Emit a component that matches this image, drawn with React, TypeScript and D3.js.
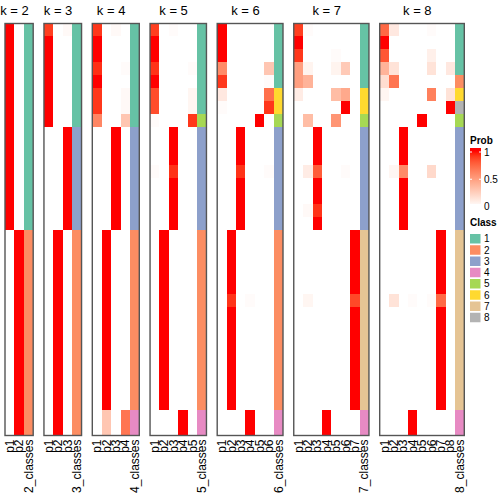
import React from "react";
import * as d3 from "d3";

// ---------- data ----------
const kValues = [2, 3, 4, 5, 6, 7, 8];

const classK2 = [1,1,1,1,1,1,1,1,1,1,1,1,1,1,1,1,2,2,2,2,2,2,2,2,2,2,2,2,2,2,2,2];
const classK3 = [1,1,1,1,1,1,1,1,3,3,3,3,3,3,3,3,2,2,2,2,2,2,2,2,2,2,2,2,2,2,2,2];
const classK4 = [1,1,1,1,1,1,1,1,3,3,3,3,3,3,3,3,2,2,2,2,2,2,2,2,2,2,2,2,2,2,4,4];
const classK5 = [1,1,1,1,1,1,1,5,3,3,3,3,3,3,3,3,2,2,2,2,2,2,2,2,2,2,2,2,2,2,4,4];
const classK6 = [1,1,1,1,1,6,6,5,3,3,3,3,3,3,3,3,2,2,2,2,2,2,2,2,2,2,2,2,2,2,4,4];
const classK7 = [1,1,1,1,1,6,6,5,3,3,3,3,3,3,3,3,7,7,7,7,7,7,7,7,7,7,7,7,7,7,4,4];
const classK8 = [1,1,1,1,2,6,8,5,3,3,3,3,3,3,3,3,7,7,7,7,7,7,7,7,7,7,7,7,7,7,4,4];

const probK2 = [
  [1,0],[1,0],[1,0],[1,0],[1,0],[1,0],[1,0],[1,0],
  [1,0],[1,0],[1,0],[1,0],[1,0],[1,0],[1,0],[1,0],
  [0,1],[0,1],[0,1],[0,1],[0,1],[0,1],[0,1],[0,1],
  [0,1],[0,1],[0,1],[0,1],[0,1],[0,1],[0,1],[0,1],
];
const probK3 = [
  [0.9,0,0.03],[1,0,0],[1,0,0],[1,0,0],[1,0,0],[1,0,0],[1,0,0],[1,0,0],
  [0,0,1],[0,0,1],[0,0,1],[0,0,1],[0,0,1],[0,0,1],[0,0,1],[0,0,1],
  [0,1,0],[0,1,0],[0,1,0],[0,1,0],[0,1,0],[0,1,0],[0,1,0],[0,1,0],
  [0,1,0],[0,1,0],[0,1,0],[0,1,0],[0,1,0],[0,1,0],[0,1,0],[0,1,0],
];
const probK4 = [
  [0.92,0,0.03,0],[1,0,0,0],[1,0,0,0],[0.94,0,0,0.02],[1,0,0,0],[0.92,0,0,0.03],[0.92,0,0,0.03],[0.62,0,0,0.3],
  [0,0,1,0],[0,0,1,0],[0,0,1,0],[0,0,1,0],[0,0,1,0],[0,0,1,0],[0,0,1,0],[0,0,1,0],
  [0,1,0,0],[0,1,0,0],[0,1,0,0],[0,1,0,0],[0,1,0,0],[0,1,0,0],[0,1,0,0],[0,1,0,0],
  [0,1,0,0],[0,1,0,0],[0,1,0,0],[0,1,0,0],[0,1,0,0],[0,1,0,0],[0,0.3,0,0.7],[0,0.3,0,0.7],
];
const probK5 = [
  [0.9,0,0.02,0,0],[1,0,0,0,0],[1,0,0,0,0],[0.93,0,0,0,0.02],[1,0,0,0,0],[0.86,0,0,0,0.05],[0.86,0,0,0,0.05],[0.02,0,0,0,0.92],
  [0,0,1,0,0],[0,0,1,0,0],[0,0,1,0,0],[0.02,0,0.93,0,0],[0,0,1,0,0],[0,0,1,0,0],[0,0,1,0,0],[0,0,1,0,0],
  [0,1,0,0,0],[0,1,0,0,0],[0,1,0,0,0],[0,1,0,0,0],[0,1,0,0,0],[0,1,0,0,0],[0,1,0,0,0],[0,1,0,0,0],
  [0,1,0,0,0],[0,1,0,0,0],[0,1,0,0,0],[0,1,0,0,0],[0,1,0,0,0],[0,1,0,0,0],[0,0,0,1,0],[0,0,0,1,0],
];
const probK6 = [
  [1,0,0,0,0,0],[1,0,0,0,0,0],[1,0,0,0,0,0],[0.6,0,0,0,0,0.3],[0.92,0,0,0,0,0.02],[0.12,0,0,0,0,0.72],[0.02,0,0,0,0,0.92],[0,0,0,0,1,0],
  [0,0,1,0,0,0],[0,0,1,0,0,0],[0,0,1,0,0,0],[0,0,0.93,0,0,0.02],[0,0,1,0,0,0],[0,0,1,0,0,0],[0,0,1,0,0,0],[0,0,1,0,0,0],
  [0,1,0,0,0,0],[0,1,0,0,0,0],[0,1,0,0,0,0],[0,1,0,0,0,0],[0,1,0,0,0,0],[0,0.93,0,0.02,0,0],[0,1,0,0,0,0],[0,1,0,0,0,0],
  [0,1,0,0,0,0],[0,1,0,0,0,0],[0,1,0,0,0,0],[0,1,0,0,0,0],[0,1,0,0,0,0],[0,1,0,0,0,0],[0,0,0,1,0,0],[0,0,0,1,0,0],
];
const probK7 = [
  [0.9,0.02,0,0,0,0,0],[1,0,0,0,0,0,0],[0.92,0,0,0,0.02,0,0],[0.5,0.06,0,0,0.06,0.28,0],
  [0.5,0.4,0,0,0,0,0],[0.1,0,0,0,0.35,0.45,0],[0,0,0,0,0,1,0],[0,0.35,0,0,0.55,0,0],
  [0,0,1,0,0,0,0],[0,0,1,0,0,0,0],[0,0,1,0,0,0,0],[0,0.1,0.8,0,0,0.02,0],
  [0,0,1,0,0,0,0],[0,0,1,0,0,0,0],[0,0.03,0.93,0,0,0,0],[0,0,1,0,0,0,0],
  [0,0,0,0,0,0,1],[0,0,0,0,0,0,1],[0,0,0,0,0,0,1],[0,0,0,0,0,0,1],
  [0,0,0,0,0,0,1],[0,0.05,0,0,0,0,0.87],[0,0,0,0,0,0,1],[0,0,0,0,0,0,1],
  [0,0,0,0,0,0,1],[0,0,0,0,0,0,1],[0,0,0,0,0,0,1],[0,0,0,0,0,0,1],
  [0,0,0,0,0,0,1],[0,0,0,0,0,0,1],[0,0,0,1,0,0,0],[0,0,0,1,0,0,0],
];
const probK8 = [
  [0.75,0.12,0,0,0,0.02,0,0],[1,0,0,0,0,0,0,0],[0.82,0,0,0,0,0.08,0,0],[0.4,0.15,0,0,0,0.15,0,0.12],
  [0.18,0.7,0,0,0,0,0,0],[0.05,0,0,0,0,0.65,0,0.15],[0,0,0,0,0,0,0,1],[0,0,0,0,1,0,0,0],
  [0,0,1,0,0,0,0,0],[0,0,1,0,0,0,0,0],[0,0,1,0,0,0,0,0],[0,0.05,0.6,0,0,0.2,0,0],
  [0,0,1,0,0,0,0,0],[0,0,1,0,0,0,0,0],[0,0,1,0,0,0,0,0],[0,0,1,0,0,0,0,0],
  [0,0,0,0,0,0,1,0],[0,0,0,0,0,0,1,0],[0,0,0,0,0,0,1,0],[0,0,0,0,0,0,1,0],
  [0,0,0,0,0,0,1,0],[0,0.15,0,0.02,0,0.02,0.75,0],[0,0,0,0,0,0,1,0],[0,0,0,0,0,0,1,0],
  [0,0,0,0,0,0,1,0],[0,0,0,0,0,0,1,0],[0,0,0,0,0,0,1,0],[0,0,0,0,0,0,1,0],
  [0,0,0,0,0,0,1,0],[0,0,0,0,0,0,1,0],[0,0,0,1,0,0,0,0],[0,0,0,1,0,0,0,0],
];

const probs = [probK2, probK3, probK4, probK5, probK6, probK7, probK8];
const classes = [classK2, classK3, classK4, classK5, classK6, classK7, classK8];

const classLabels = ["1", "2", "3", "4", "5", "6", "7", "8"];
const classColors = ["#66C2A5", "#FC8D62", "#8DA0CB", "#E78AC3", "#A6D854", "#FFD92F", "#E5C494", "#B3B3B3"];
const probTicks = [1, 0.5, 0];

// ---------- layout ----------
const W = 504, H = 504;
const LEFT = 5, COLW = 9.4, GAP = 10.75;
const TOP = 23.5, BOTTOM = 435.5;
const FONT = "'Liberation Sans', Arial, Helvetica, sans-serif";

const probColor = d3.scaleLinear<string>().domain([0, 1]).range(["#FFFFFF", "#FF0000"]).interpolate(d3.interpolateLab);
const classColor = d3.scaleOrdinal<string, string>().domain(classLabels).range(classColors);

export default function App() {
  const nRows = probK2.length;
  const y = d3.scaleBand<number>().domain(d3.range(nRows)).range([TOP, BOTTOM]).paddingInner(0).paddingOuter(0);

  let xCursor = LEFT;
  const panels = kValues.map((k, i) => {
    const cols = [...d3.range(1, k + 1).map((j) => `p${j}`), `${k}_classes`];
    const x0 = xCursor;
    const x1 = x0 + cols.length * COLW;
    xCursor = x1 + GAP;
    const x = d3.scaleBand<string>().domain(cols).range([x0, x1]);
    return { k, cols, x, x0, x1, prob: probs[i], cls: classes[i] };
  });

  const legX = 470;
  const barTop = 148, barBottom = 204;
  const barScale = d3.scaleLinear().domain([1, 0]).range([152, 206.5]);
  const gradStops = d3.range(0, 1.0001, 0.05).map((t) => {
    const yy = barTop + t * (barBottom - barTop);
    const v = Math.max(0, Math.min(1, barScale.invert(yy)));
    return { offset: t, color: probColor(v) };
  });

  return (
    <svg width={W} height={H} style={{ position: "absolute", left: 0, top: 0, background: "#fff" }} fontFamily={FONT}>
      <defs>
        <linearGradient id="probGrad" x1="0" y1="0" x2="0" y2="1">
          {gradStops.map((s, i) => (
            <stop key={i} offset={s.offset} stopColor={s.color} />
          ))}
        </linearGradient>
      </defs>
      {panels.map((p) => {
        const pCols = p.cols.slice(0, p.k);
        const clsCol = p.cols[p.k];
        const titleX = (p.x0 + (p.x(clsCol) as number)) / 2;
        return (
          <g key={p.k}>
            <text x={titleX} y={15} textAnchor="middle" fontSize={13} fill="#000">{`k = ${p.k}`}</text>
            <g shapeRendering="crispEdges">
              {p.prob.map((row, r) =>
                row.map((v, c) => (
                  <rect key={`${r}-${c}`} x={p.x(pCols[c])} y={y(r)} width={p.x.bandwidth()} height={y.bandwidth()} fill={probColor(v)} />
                ))
              )}
              {p.cls.map((c, r) => (
                <rect key={`c${r}`} x={p.x(clsCol)} y={y(r)} width={p.x.bandwidth()} height={y.bandwidth()} fill={classColor(String(c))} />
              ))}
            </g>
            <rect x={p.x0} y={TOP} width={p.x1 - p.x0} height={BOTTOM - TOP} fill="none" stroke="#555" strokeWidth={1.4} />
            {p.cols.map((c) => (
              <text
                key={c}
                transform={`translate(${(p.x(c) as number) + p.x.bandwidth() / 2},${439.5}) rotate(-90)`}
                textAnchor="end"
                dy="0.35em"
                fontSize={12}
                fill="#000"
              >
                {c}
              </text>
            ))}
          </g>
        );
      })}
      {/* Prob legend */}
      <text x={legX} y={144} fontSize={10} fontWeight="bold">Prob</text>
      <rect x={legX} y={barTop} width={11} height={barBottom - barTop} fill="url(#probGrad)" />
      {probTicks.slice(0, 2).map((t) => (
        <g key={t}>
          <line x1={legX} x2={legX + 2} y1={barScale(t)} y2={barScale(t)} stroke="#fff" strokeWidth={1} />
          <line x1={legX + 9} x2={legX + 11} y1={barScale(t)} y2={barScale(t)} stroke="#fff" strokeWidth={1} />
        </g>
      ))}
      {probTicks.map((t) => (
        <text key={t} x={legX + 14} y={barScale(t)} dy="0.35em" fontSize={10}>{String(t)}</text>
      ))}
      {/* Class legend */}
      <text x={legX} y={226} fontSize={10} fontWeight="bold">Class</text>
      {classLabels.map((c, i) => (
        <g key={c}>
          <rect x={legX} y={234 + i * 11.25} width={10.5} height={9.5} fill={classColor(c)} />
          <text x={legX + 14} y={234 + i * 11.25 + 4.75} dy="0.35em" fontSize={10}>{c}</text>
        </g>
      ))}
    </svg>
  );
}
